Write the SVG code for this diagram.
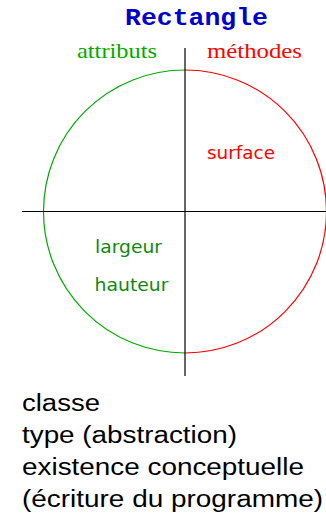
<svg xmlns="http://www.w3.org/2000/svg" width="326" height="520" viewBox="0 0 326 520">
<style>
.title{font-family:"Liberation Mono",monospace;font-weight:bold;font-size:24px;fill:#0000cc}
.head{font-family:"Liberation Serif",serif;font-size:22px}
.lbl{font-family:"DejaVu Sans",sans-serif;font-size:18px}
.body{font-family:"Liberation Sans",sans-serif;font-size:23px;fill:#000}
.ax{stroke:#000;stroke-width:1.2;fill:none}
</style>
<rect width="326" height="520" fill="#fff"/>
<text class="title" x="125" y="25" textLength="143" lengthAdjust="spacingAndGlyphs">Rectangle</text>
<g id="circle">
<path d="M185,70 A141.5,141.5 0 0 0 185,353" fill="none" stroke="#00aa00" stroke-width="1.2"/>
<path d="M185,70 A141.5,141.5 0 0 1 185,353" fill="none" stroke="#ff0000" stroke-width="1.2"/>
</g>
<g id="axes">
<line class="ax" x1="185" y1="48" x2="185" y2="376"/>
<line class="ax" x1="22" y1="211.5" x2="326" y2="211.5"/>
</g>
<g id="attributs"><text class="head" x="77" y="58" fill="#00aa00" textLength="80" lengthAdjust="spacingAndGlyphs">attributs</text></g>
<g id="methodes"><text class="head" x="207" y="58" fill="#ff0000" textLength="95" lengthAdjust="spacingAndGlyphs">méthodes</text></g>
<g id="surface"><text class="lbl" x="207" y="159" fill="#ff0000" textLength="68" lengthAdjust="spacingAndGlyphs">surface</text></g>
<g id="largeur"><text class="lbl" x="95" y="253" fill="#118811" textLength="67" lengthAdjust="spacingAndGlyphs">largeur</text></g>
<g id="hauteur"><text class="lbl" x="94.5" y="291" fill="#118811" textLength="74" lengthAdjust="spacingAndGlyphs">hauteur</text></g>
<g id="legend">
<text class="body" x="22" y="411" textLength="78" lengthAdjust="spacingAndGlyphs">classe</text>
<text class="body" x="22" y="443" textLength="215" lengthAdjust="spacingAndGlyphs">type (abstraction)</text>
<text class="body" x="22" y="475" textLength="282" lengthAdjust="spacingAndGlyphs">existence conceptuelle</text>
<text class="body" x="22" y="507" textLength="301" lengthAdjust="spacingAndGlyphs">(écriture du programme)</text>
</g>
</svg>
